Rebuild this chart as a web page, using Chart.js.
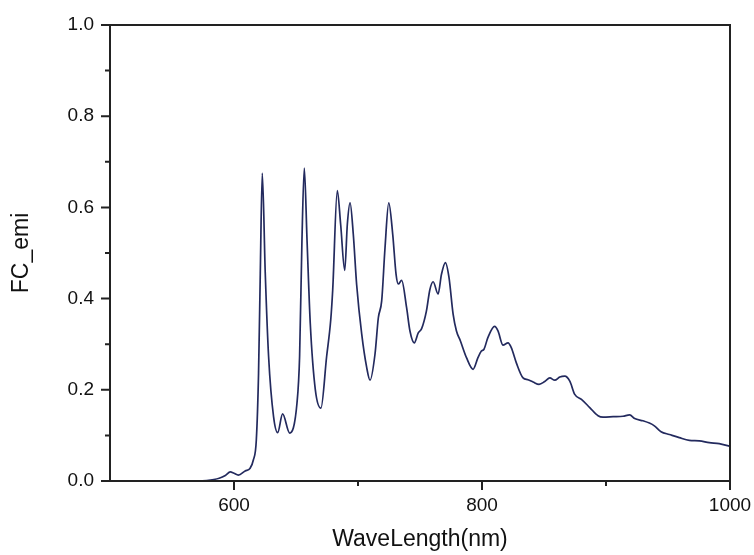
<!DOCTYPE html>
<html>
<head>
<meta charset="utf-8">
<script src="https://cdn.jsdelivr.net/npm/chart.js@4.4.1/dist/chart.umd.min.js"></script>
<style>
  html, body { margin: 0; padding: 0; background: #fff; }
  #wrap { width: 754px; height: 555px; }
</style>
</head>
<body>
<div id="wrap"><canvas id="c" width="754" height="555"></canvas></div>
<script>
// ---- data ----
const wavelengths = [500, 540, 570, 578, 588, 593, 597, 600, 603.5, 609, 613, 615.6, 618, 619.8, 621.2, 622.8, 625.2, 627.9, 631.9, 635.2, 639.2, 644.9, 650.8, 652.9, 654.8, 656.7, 658.9, 661.5, 665.6, 670.1, 674.7, 678, 679.6, 683.3, 686, 689.3, 691.4, 693.6, 696.2, 698.9, 703, 707, 709.7, 713.7, 716.4, 719.1, 721.8, 724.8, 728, 730.7, 732.5, 735.2, 739.2, 741.9, 745.4, 748.6, 751.3, 755.2, 757.9, 760.6, 764.6, 767.3, 770.5, 773.4, 776.7, 779.4, 782.6, 787.4, 792.8, 796.8, 799.5, 801.6, 804.8, 810.2, 812.9, 816.9, 821, 823.7, 827.7, 833.1, 837.1, 841.2, 846, 850.6, 854.7, 858.7, 862.7, 866.8, 870.8, 874.8, 880.2, 886.9, 893.6, 897.6, 905.7, 913.7, 919.1, 923.1, 929.8, 935, 939, 944.4, 951.1, 959.1, 967.2, 975.2, 983.3, 991.3, 1000];
const emission = [0, 0, 0, 0.001, 0.006, 0.012, 0.02, 0.017, 0.013, 0.022, 0.028, 0.046, 0.09, 0.236, 0.456, 0.675, 0.456, 0.273, 0.141, 0.106, 0.147, 0.105, 0.171, 0.273, 0.528, 0.686, 0.528, 0.346, 0.2, 0.16, 0.273, 0.353, 0.419, 0.637, 0.563, 0.462, 0.563, 0.61, 0.541, 0.431, 0.322, 0.249, 0.221, 0.278, 0.358, 0.395, 0.512, 0.61, 0.541, 0.453, 0.432, 0.44, 0.38, 0.329, 0.303, 0.325, 0.334, 0.373, 0.419, 0.437, 0.41, 0.453, 0.479, 0.446, 0.366, 0.329, 0.307, 0.271, 0.245, 0.271, 0.285, 0.289, 0.315, 0.339, 0.329, 0.298, 0.303, 0.292, 0.259, 0.226, 0.222, 0.217, 0.212, 0.218, 0.226, 0.221, 0.228, 0.23, 0.219, 0.19, 0.179, 0.161, 0.143, 0.14, 0.141, 0.142, 0.145, 0.137, 0.132, 0.127, 0.121, 0.108, 0.102, 0.095, 0.089, 0.088, 0.084, 0.082, 0.076];
const xMajorTicks = [600, 800, 1000];
const xMinorTicks = [700, 900];
const yMajorTicks = [0.0, 0.2, 0.4, 0.6, 0.8, 1.0];
const yMinorTicks = [0.1, 0.3, 0.5, 0.7, 0.9];
const xTitle = 'WaveLength(nm)';
const yTitle = 'FC_emi';

const points = wavelengths.map((w, i) => ({ x: w, y: emission[i] }));
const FONT = "'Liberation Sans', Arial, sans-serif";
const AXIS_COLOR = '#222222';

const framePlugin = {
  id: 'frameTicks',
  afterDatasetsDraw(chart) {
    const ctx = chart.ctx;
    const a = chart.chartArea;
    const xs = chart.scales.x, ys = chart.scales.y;
    ctx.save();
    ctx.strokeStyle = AXIS_COLOR;
    ctx.lineWidth = 2;
    ctx.strokeRect(a.left, a.top, a.right - a.left, a.bottom - a.top);
    ctx.beginPath();
    xMajorTicks.forEach(v => { const p = xs.getPixelForValue(v); ctx.moveTo(p, a.bottom); ctx.lineTo(p, a.bottom + 9); });
    xMinorTicks.forEach(v => { const p = xs.getPixelForValue(v); ctx.moveTo(p, a.bottom); ctx.lineTo(p, a.bottom + 5); });
    yMajorTicks.forEach(v => { const p = ys.getPixelForValue(v); ctx.moveTo(a.left, p); ctx.lineTo(a.left - 9, p); });
    yMinorTicks.forEach(v => { const p = ys.getPixelForValue(v); ctx.moveTo(a.left, p); ctx.lineTo(a.left - 5, p); });
    ctx.stroke();
    ctx.restore();
  }
};

new Chart(document.getElementById('c'), {
  type: 'line',
  data: {
    datasets: [{
      data: points,
      borderColor: '#232a5e',
      borderWidth: 1.7,
      pointRadius: 0,
      fill: false,
      cubicInterpolationMode: 'monotone'
    }]
  },
  plugins: [framePlugin],
  options: {
    responsive: false,
    animation: false,
    devicePixelRatio: 1,
    layout: { padding: { left: 0, right: 24, top: 25, bottom: 0 } },
    plugins: { legend: { display: false }, tooltip: { enabled: false } },
    scales: {
      x: {
        type: 'linear',
        min: 500, max: 1000,
        afterBuildTicks: s => { s.ticks = xMajorTicks.map(v => ({ value: v })); },
        afterFit: s => { s.height = 74; s.paddingLeft = 0; s.paddingRight = 0; },
        grid: { display: false, drawTicks: false },
        border: { display: false },
        ticks: {
          padding: 13,
          color: '#111',
          font: { family: FONT, size: 19 },
          callback: v => String(v),
          maxRotation: 0
        },
        title: {
          display: true, text: xTitle, color: '#111',
          font: { family: FONT, size: 23 },
          padding: { top: 0, bottom: 2 }
        }
      },
      y: {
        type: 'linear',
        min: 0, max: 1,
        afterBuildTicks: s => { s.ticks = yMajorTicks.map(v => ({ value: v })); },
        afterFit: s => { s.width = 110; s.paddingTop = 0; s.paddingBottom = 0; },
        grid: { display: false, drawTicks: false },
        border: { display: false },
        ticks: {
          padding: 16,
          color: '#111',
          font: { family: FONT, size: 19 },
          callback: v => Number(v).toFixed(1)
        },
        title: {
          display: true, text: yTitle, color: '#111',
          font: { family: FONT, size: 23 },
          padding: { top: 8, bottom: 0 }
        }
      }
    }
  }
});
</script>
</body>
</html>
